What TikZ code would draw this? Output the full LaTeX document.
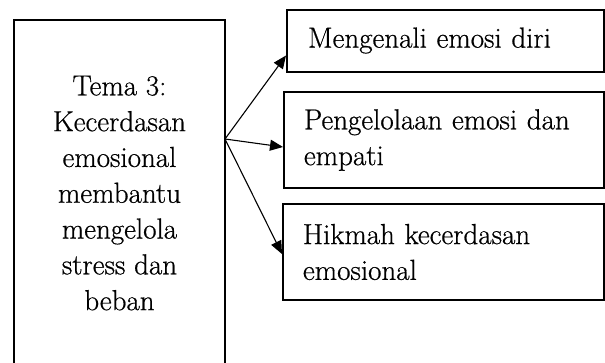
\documentclass[tikz,border=0pt]{standalone}
\usepackage{fontspec}
\setmainfont{Latin Modern Roman}[UprightFeatures={FakeBold=0.6}]
\usetikzlibrary{arrows.meta,calc}

\tikzset{
  frame/.style={draw, line width=2pt, rectangle, inner sep=0pt},
  topic/.style={frame, align=center, minimum width=211pt, minimum height=346pt,
                font=\fontsize{29}{35.8}\selectfont},
  item/.style={frame, anchor=north west, align=left,
                inner xsep=20pt, font=\fontsize{29}{35.8}\selectfont},
  link/.style={line width=1.1pt, -{Triangle[length=13pt,width=11pt]}}
}

\begin{document}
\begin{tikzpicture}[x=1pt,y=-1pt]
  \clip (0,0) rectangle (605,362);
  \fill[white] (0,0) rectangle (605,362);

  % main theme box (its lower edge runs off the page)
  \node[topic] (tema) at (119.5,193)
    {Tema 3:\\Kecerdasan\\emosional\\membantu\\mengelola\\stress dan\\beban};

  % sub-topic boxes
  \node[item, text width=275pt, inner xsep=21pt, minimum height=62pt] (b1) at (286,8.5)
    {Mengenali emosi diri};
  \node[item, text width=280pt, minimum height=96pt] (b2) at (283,91)
    {Pengelolaan emosi dan\\empati};
  \node[item, text width=281pt, minimum height=96pt] (b3) at (282,203)
    {Hikmah kecerdasan\\emosional};

  % arrows fan out from one point on the theme box
  \coordinate (hub) at (225,139);
  \draw[link] (hub) -- ($(b1.west)+(0,15)$);
  \draw[link] (hub) -- ($(b2.west)+(0,7)$);
  \draw[link] (hub) -- ($(b3.west)+(0,2)$);
\end{tikzpicture}
\end{document}
